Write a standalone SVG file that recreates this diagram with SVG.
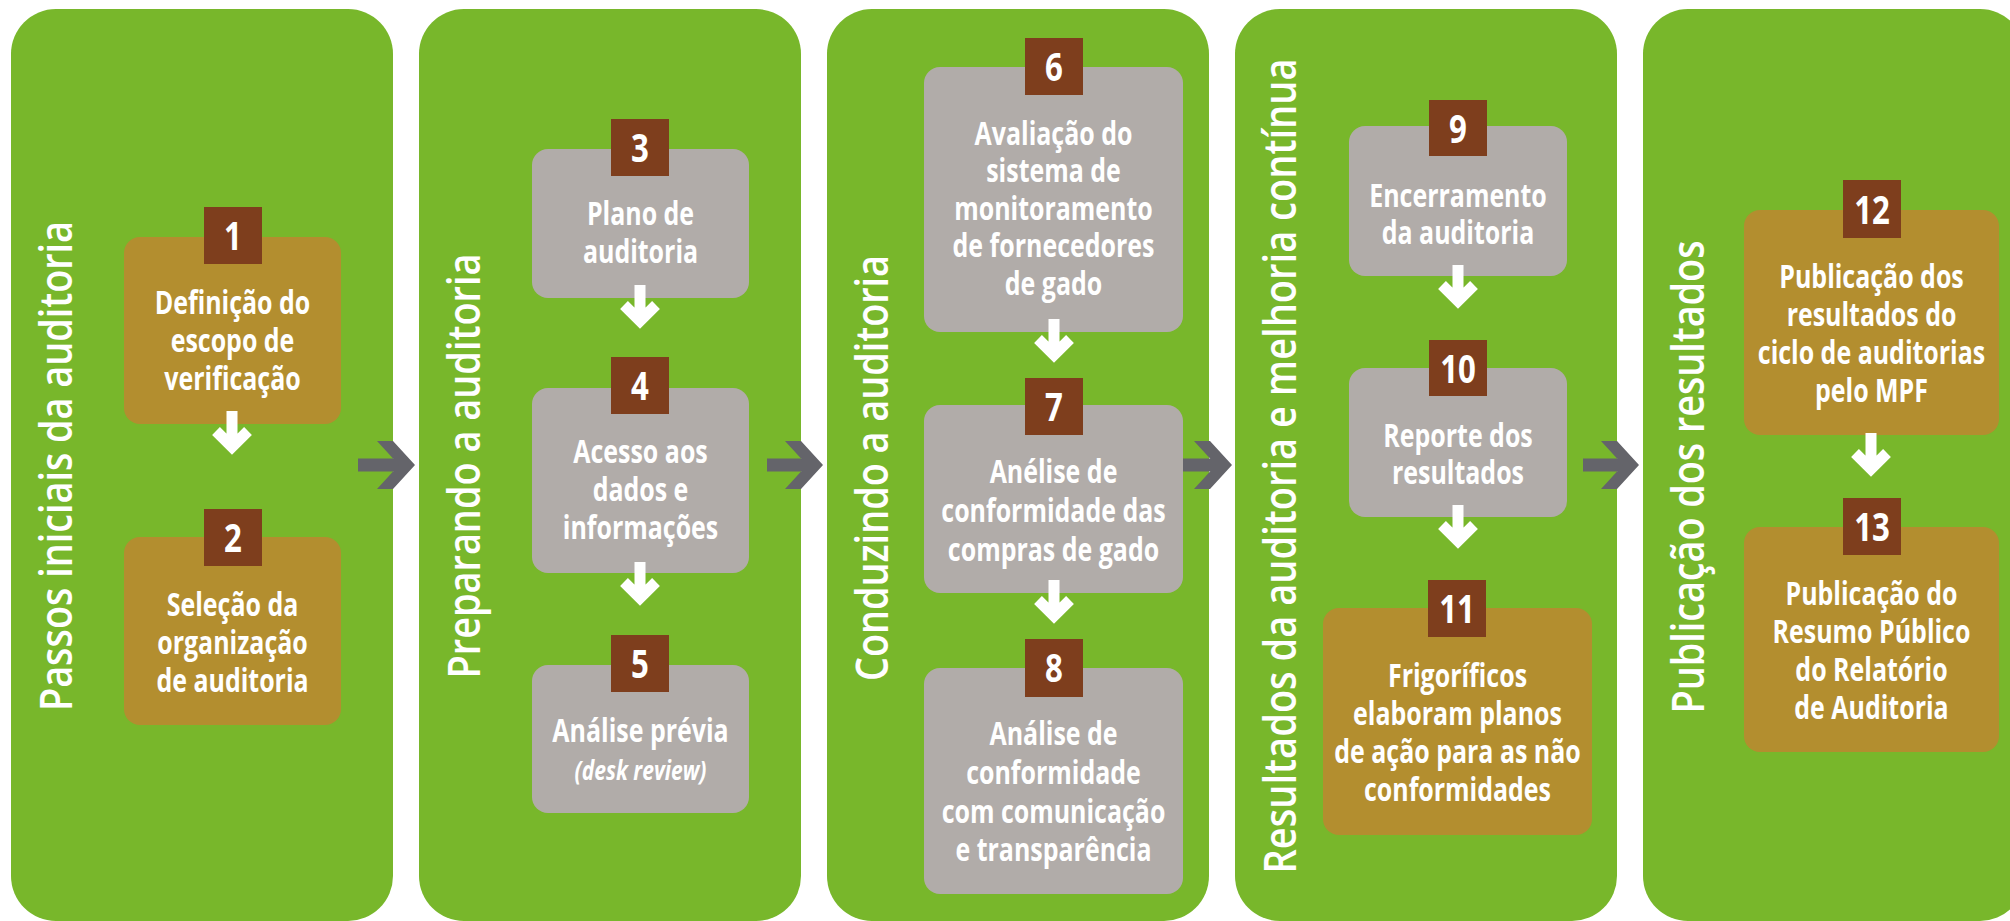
<svg xmlns="http://www.w3.org/2000/svg" width="2010" height="921" viewBox="0 0 2010 921">
<defs>
<style>
.panel{fill:#78B72B}
.gold{fill:#B38E2F}
.gray{fill:#B1ACA9}
.badge{fill:#7E3E1D}
.num{font-family:"Open Sans","Liberation Sans",sans-serif;font-weight:700;font-size:40px;fill:#fff;text-anchor:middle}
.lbl{font-family:"Open Sans","Liberation Sans",sans-serif;font-weight:700;font-size:32px;fill:#fff;text-anchor:middle}
.ital{font-style:italic;font-size:27px}
.title{font-family:"Open Sans","Liberation Sans",sans-serif;font-weight:600;font-size:46px;fill:#fff;text-anchor:middle}
.warrow{stroke:#fff;stroke-width:11;fill:none}
.garrow{fill:#64646A}
</style>
<path id="down" d="M0,-22 V10 M-16,-2 L0,14 L16,-2"/>
<path id="head" d="M-38,-24 H-22 L0,0 L-22,24 H-38 L-16,0 Z"/>
</defs>
<rect width="2010" height="921" fill="#fff"/>

<g id="panel1">
<rect class="panel" x="11" y="9" width="382" height="912" rx="45"/>
<text class="title" transform="translate(72,466) rotate(-90)" textLength="490" lengthAdjust="spacingAndGlyphs">Passos iniciais da auditoria</text>
</g>
<g id="panel2">
<rect class="panel" x="419" y="9" width="382" height="912" rx="45"/>
<text class="title" transform="translate(480,466) rotate(-90)" textLength="425" lengthAdjust="spacingAndGlyphs">Preparando a auditoria</text>
</g>
<g id="panel3">
<rect class="panel" x="827" y="9" width="382" height="912" rx="45"/>
<text class="title" transform="translate(888,468) rotate(-90)" textLength="426" lengthAdjust="spacingAndGlyphs">Conduzindo a auditoria</text>
</g>
<g id="panel4">
<rect class="panel" x="1235" y="9" width="382" height="912" rx="45"/>
<text class="title" transform="translate(1296,466) rotate(-90)" textLength="815" lengthAdjust="spacingAndGlyphs">Resultados da auditoria e melhoria contínua</text>
</g>
<g id="panel5">
<rect class="panel" x="1643" y="9" width="382" height="912" rx="45"/>
<text class="title" transform="translate(1704,477) rotate(-90)" textLength="473" lengthAdjust="spacingAndGlyphs">Publicação dos resultados</text>
</g>

<g id="node1">
<rect class="gold" x="124" y="237" width="217" height="187" rx="16"/>
<rect class="badge" x="204" y="207" width="58" height="57"/>
<text class="num" transform="translate(233,0) scale(0.78,1)" x="0" y="250">1</text>
<text class="lbl" transform="translate(232.5,0) scale(0.78,1)"><tspan x="0" y="314">Definição do</tspan><tspan x="0" y="352">escopo de</tspan><tspan x="0" y="390">verificação</tspan></text>
</g>
<g id="node2">
<rect class="gold" x="124" y="537" width="217" height="188" rx="16"/>
<rect class="badge" x="204" y="509" width="58" height="57"/>
<text class="num" transform="translate(233,0) scale(0.78,1)" x="0" y="552">2</text>
<text class="lbl" transform="translate(232.5,0) scale(0.78,1)"><tspan x="0" y="616">Seleção da</tspan><tspan x="0" y="654">organização</tspan><tspan x="0" y="692">de auditoria</tspan></text>
</g>
<g id="node3">
<rect class="gray" x="532" y="149" width="217" height="149" rx="16"/>
<rect class="badge" x="611" y="119" width="58" height="57"/>
<text class="num" transform="translate(640,0) scale(0.78,1)" x="0" y="162">3</text>
<text class="lbl" transform="translate(640.5,0) scale(0.78,1)"><tspan x="0" y="225">Plano de</tspan><tspan x="0" y="263">auditoria</tspan></text>
</g>
<g id="node4">
<rect class="gray" x="532" y="388" width="217" height="185" rx="16"/>
<rect class="badge" x="611" y="357" width="58" height="57"/>
<text class="num" transform="translate(640,0) scale(0.78,1)" x="0" y="400">4</text>
<text class="lbl" transform="translate(640.5,0) scale(0.78,1)"><tspan x="0" y="463">Acesso aos</tspan><tspan x="0" y="501">dados e</tspan><tspan x="0" y="539">informações</tspan></text>
</g>
<g id="node5">
<rect class="gray" x="532" y="665" width="217" height="148" rx="16"/>
<rect class="badge" x="611" y="635" width="58" height="57"/>
<text class="num" transform="translate(640,0) scale(0.78,1)" x="0" y="678">5</text>
<text class="lbl" transform="translate(640.5,0) scale(0.78,1)"><tspan x="0" y="742">Análise prévia</tspan><tspan class="ital" x="0" y="780">(desk review)</tspan></text>
</g>
<g id="node6">
<rect class="gray" x="924" y="67" width="259" height="265" rx="16"/>
<rect class="badge" x="1025" y="38" width="58" height="57"/>
<text class="num" transform="translate(1054,0) scale(0.78,1)" x="0" y="81">6</text>
<text class="lbl" transform="translate(1053.5,0) scale(0.78,1)"><tspan x="0" y="145">Avaliação do</tspan><tspan x="0" y="182.5">sistema de</tspan><tspan x="0" y="220">monitoramento</tspan><tspan x="0" y="257.5">de fornecedores</tspan><tspan x="0" y="295">de gado</tspan></text>
</g>
<g id="node7">
<rect class="gray" x="924" y="405" width="259" height="188" rx="16"/>
<rect class="badge" x="1025" y="378" width="58" height="57"/>
<text class="num" transform="translate(1054,0) scale(0.78,1)" x="0" y="421">7</text>
<text class="lbl" transform="translate(1053.5,0) scale(0.78,1)"><tspan x="0" y="483">Anélise de</tspan><tspan x="0" y="522">conformidade das</tspan><tspan x="0" y="561">compras de gado</tspan></text>
</g>
<g id="node8">
<rect class="gray" x="924" y="668" width="259" height="226" rx="16"/>
<rect class="badge" x="1025" y="639" width="58" height="58"/>
<text class="num" transform="translate(1054,0) scale(0.78,1)" x="0" y="682">8</text>
<text class="lbl" transform="translate(1053.5,0) scale(0.78,1)"><tspan x="0" y="745">Análise de</tspan><tspan x="0" y="784">conformidade</tspan><tspan x="0" y="823">com comunicação</tspan><tspan x="0" y="861">e transparência</tspan></text>
</g>
<g id="node9">
<rect class="gray" x="1349" y="126" width="218" height="150" rx="16"/>
<rect class="badge" x="1429" y="100" width="58" height="56"/>
<text class="num" transform="translate(1458,0) scale(0.78,1)" x="0" y="143">9</text>
<text class="lbl" transform="translate(1458,0) scale(0.78,1)"><tspan x="0" y="207">Encerramento</tspan><tspan x="0" y="244">da auditoria</tspan></text>
</g>
<g id="node10">
<rect class="gray" x="1349" y="368" width="218" height="149" rx="16"/>
<rect class="badge" x="1429" y="340" width="58" height="56"/>
<text class="num" transform="translate(1458,0) scale(0.78,1)" x="0" y="383">10</text>
<text class="lbl" transform="translate(1458,0) scale(0.78,1)"><tspan x="0" y="447">Reporte dos</tspan><tspan x="0" y="484">resultados</tspan></text>
</g>
<g id="node11">
<rect class="gold" x="1323" y="608" width="269" height="227" rx="16"/>
<rect class="badge" x="1428" y="580" width="58" height="57"/>
<text class="num" transform="translate(1457,0) scale(0.78,1)" x="0" y="623">11</text>
<text class="lbl" transform="translate(1457.5,0) scale(0.78,1)"><tspan x="0" y="687">Frigoríficos</tspan><tspan x="0" y="725">elaboram planos</tspan><tspan x="0" y="763">de ação para as não</tspan><tspan x="0" y="801">conformidades</tspan></text>
</g>
<g id="node12">
<rect class="gold" x="1744" y="210" width="255" height="225" rx="16"/>
<rect class="badge" x="1843" y="180" width="58" height="58"/>
<text class="num" transform="translate(1872,0) scale(0.78,1)" x="0" y="224">12</text>
<text class="lbl" transform="translate(1871.5,0) scale(0.78,1)"><tspan x="0" y="288">Publicação dos</tspan><tspan x="0" y="326">resultados do</tspan><tspan x="0" y="364">ciclo de auditorias</tspan><tspan x="0" y="402">pelo MPF</tspan></text>
</g>
<g id="node13">
<rect class="gold" x="1744" y="527" width="255" height="225" rx="16"/>
<rect class="badge" x="1843" y="498" width="58" height="57"/>
<text class="num" transform="translate(1872,0) scale(0.78,1)" x="0" y="541">13</text>
<text class="lbl" transform="translate(1871.5,0) scale(0.78,1)"><tspan x="0" y="605">Publicação do</tspan><tspan x="0" y="643">Resumo Público</tspan><tspan x="0" y="681">do Relatório</tspan><tspan x="0" y="719">de Auditoria</tspan></text>
</g>

<g id="connectors">
<use href="#down" class="warrow" transform="translate(232,433)"/>
<use href="#down" class="warrow" transform="translate(640,307)"/>
<use href="#down" class="warrow" transform="translate(640,584)"/>
<use href="#down" class="warrow" transform="translate(1054,341)"/>
<use href="#down" class="warrow" transform="translate(1054,602)"/>
<use href="#down" class="warrow" transform="translate(1458,287)"/>
<use href="#down" class="warrow" transform="translate(1458,527)"/>
<use href="#down" class="warrow" transform="translate(1871,455)"/>
<rect class="garrow" x="358" y="458.5" width="43" height="13"/>
<use href="#head" class="garrow" transform="translate(415,465)"/>
<rect class="garrow" x="767" y="458.5" width="42" height="13"/>
<use href="#head" class="garrow" transform="translate(823,465)"/>
<rect class="garrow" x="1183" y="458.5" width="35" height="13"/>
<use href="#head" class="garrow" transform="translate(1232,465)"/>
<rect class="garrow" x="1583" y="458.5" width="42" height="13"/>
<use href="#head" class="garrow" transform="translate(1639,465)"/>
</g>
</svg>
